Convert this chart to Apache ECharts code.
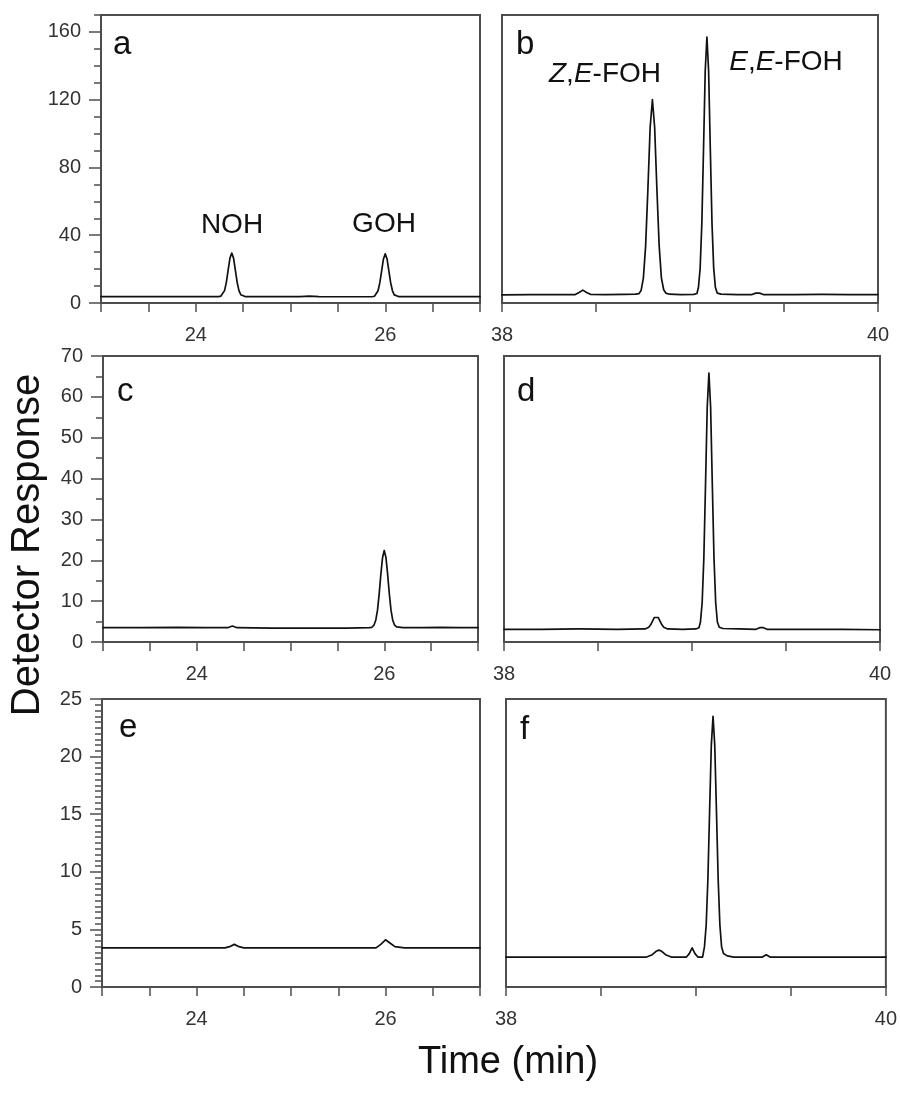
<!DOCTYPE html>
<html>
<head>
<meta charset="utf-8">
<script src="https://cdn.jsdelivr.net/npm/echarts@6/dist/echarts.min.js"></script>
<style>
html,body{margin:0;padding:0;background:#fff;}
#chart{width:900px;height:1096px;}
</style>
</head>
<body>
<div id="chart"></div>
<script>
// ---------- data (time in min, detector response) ----------
const panelA = [[23.0,3.8],[23.3,3.8],[23.6,3.8],[23.9,3.8],[24.1,3.8],[24.24,3.8],[24.266,4.1],[24.285,4.9],[24.304,7.3],[24.323,12.2],[24.342,19.4],[24.361,26.5],[24.38,29.5],[24.399,26.5],[24.418,19.4],[24.437,12.2],[24.456,7.3],[24.475,4.9],[24.494,4.1],[24.52,3.8],[24.8,3.8],[25.1,3.8],[25.2,4.0],[25.3,3.8],[25.6,3.7],[25.86,3.7],[25.886,4.0],[25.905,4.8],[25.924,7.2],[25.943,12.0],[25.962,19.0],[25.981,26.0],[26.0,29.0],[26.019,26.0],[26.038,19.0],[26.057,12.0],[26.076,7.2],[26.095,4.8],[26.114,4.0],[26.14,3.8],[26.4,3.8],[26.7,3.8],[27.0,3.8]];
const panelB = [[38.0,4.8],[38.15,4.9],[38.3,5.0],[38.39,5.0],[38.41,6.2],[38.43,7.6],[38.45,6.2],[38.47,5.1],[38.55,5.0],[38.65,5.1],[38.71,5.2],[38.728,5.5],[38.74,7.4],[38.752,14.7],[38.764,33.7],[38.776,67],[38.788,103.6],[38.80,120],[38.812,103.6],[38.824,67],[38.836,33.7],[38.848,14.7],[38.86,7.8],[38.872,5.8],[38.89,5.2],[38.95,5.0],[39.02,5.1],[39.037,5.6],[39.045,9.3],[39.054,20.6],[39.063,47],[39.072,91],[39.081,137],[39.09,157],[39.099,137],[39.108,91],[39.117,47],[39.126,20.6],[39.135,9.3],[39.145,5.8],[39.165,5.2],[39.25,5.0],[39.33,5.0],[39.35,5.8],[39.36,6.1],[39.37,5.8],[39.39,5.0],[39.55,5.0],[39.7,5.1],[39.85,5.0],[40.0,5.0]];
const panelC = [[23.0,3.5],[23.4,3.5],[23.8,3.6],[24.1,3.5],[24.33,3.5],[24.38,3.9],[24.43,3.5],[24.8,3.4],[25.2,3.4],[25.6,3.4],[25.84,3.5],[25.868,3.6],[25.892,4.2],[25.91,5.4],[25.928,7.8],[25.946,11.8],[25.964,16.6],[25.982,20.7],[26.0,22.4],[26.018,20.7],[26.036,16.6],[26.054,11.8],[26.072,7.8],[26.09,5.4],[26.108,4.2],[26.132,3.7],[26.2,3.5],[26.4,3.5],[26.6,3.6],[26.8,3.5],[27.0,3.5]];
const panelD = [[38.0,3.1],[38.2,3.1],[38.4,3.2],[38.6,3.1],[38.75,3.2],[38.77,3.6],[38.78,4.2],[38.79,5.1],[38.80,6.0],[38.81,6.4],[38.82,6.0],[38.83,5.1],[38.84,4.2],[38.85,3.6],[38.87,3.2],[38.95,3.1],[39.02,3.2],[39.037,3.5],[39.045,4.9],[39.054,9.6],[39.063,20.5],[39.072,38.6],[39.081,57.5],[39.09,65.8],[39.099,57.5],[39.108,38.6],[39.117,20.5],[39.126,9.6],[39.135,4.9],[39.145,3.6],[39.165,3.3],[39.25,3.2],[39.34,3.1],[39.36,3.5],[39.37,3.7],[39.38,3.5],[39.40,3.1],[39.6,3.1],[39.8,3.1],[40.0,3.0]];
const panelE = [[23.0,3.4],[23.5,3.4],[24.0,3.4],[24.3,3.4],[24.35,3.5],[24.4,3.7],[24.45,3.5],[24.5,3.4],[25.0,3.4],[25.5,3.4],[25.9,3.4],[25.95,3.7],[26.0,4.1],[26.05,3.8],[26.1,3.5],[26.2,3.4],[26.6,3.4],[27.0,3.4]];
const panelF = [[38.0,2.6],[38.3,2.6],[38.6,2.6],[38.74,2.6],[38.77,2.8],[38.79,3.1],[38.805,3.2],[38.82,3.1],[38.84,2.8],[38.87,2.6],[38.95,2.6],[38.965,2.9],[38.98,3.4],[38.995,2.9],[39.01,2.6],[39.035,2.6],[39.045,3.5],[39.054,5.4],[39.063,9.4],[39.072,15.3],[39.081,21.0],[39.09,23.5],[39.099,21.0],[39.108,15.3],[39.117,9.4],[39.126,5.4],[39.135,3.5],[39.145,2.9],[39.165,2.7],[39.2,2.6],[39.35,2.6],[39.37,2.8],[39.39,2.6],[39.6,2.6],[39.8,2.6],[40.0,2.6]];

// axis ranges and tick labels
const leftTimeRange = [23, 27];
const rightTimeRange = [38, 40];
const leftTimeLabels = [24, 26];
const rightTimeLabels = [38, 40];
const yMaxRows = [170, 70, 25];
const yMajorTicks = [[0, 40, 80, 120, 160], [0, 10, 20, 30, 40, 50, 60, 70], [0, 5, 10, 15, 20, 25]];
const yMinorStep = [10, 5, 0.5];

const panelLetters = ['a', 'b', 'c', 'd', 'e', 'f'];
const peakLabels = ['NOH', 'GOH', '{i|Z},{i|E}-FOH', '{i|E},{i|E}-FOH'];

// ---------- layout ----------
const grids = [
  {left: 101, top: 15, width: 379, height: 288},
  {left: 502, top: 15, width: 376, height: 288},
  {left: 103, top: 356, width: 375, height: 286},
  {left: 504, top: 356, width: 376, height: 286},
  {left: 102, top: 699, width: 378, height: 288},
  {left: 506, top: 699, width: 380, height: 288}
];
const panelData = [panelA, panelB, panelC, panelD, panelE, panelF];
const FONT = 'Liberation Sans, Arial, Helvetica, sans-serif';
const FRAME = '#4d4d4d';

const option = {
  animation: false,
  backgroundColor: '#fff',
  grid: [], xAxis: [], yAxis: [], series: [], graphic: []
};

grids.forEach((g, i) => {
  const row = Math.floor(i / 2);
  const isLeft = i % 2 === 0;
  option.grid.push(Object.assign({show: true, borderColor: FRAME, borderWidth: 2, backgroundColor: 'transparent', containLabel: false}, g));
  const tr = isLeft ? leftTimeRange : rightTimeRange;
  option.xAxis.push({
    type: 'value', gridIndex: i, min: tr[0], max: tr[1], interval: 0.5, position: 'bottom',
    axisLine: {show: true, onZero: false, lineStyle: {color: FRAME, width: 2}},
    axisTick: {show: true, length: 9, lineStyle: {color: FRAME, width: 1.5}},
    axisLabel: {show: true, customValues: isLeft ? leftTimeLabels : rightTimeLabels, fontSize: 20, fontFamily: FONT, color: '#333', margin: 22},
    splitLine: {show: false}
  });
  const yIdxMain = option.yAxis.length;
  if (isLeft) {
    option.yAxis.push({
      type: 'value', gridIndex: i, min: 0, max: yMaxRows[row], position: 'left',
      axisLine: {show: true, onZero: false, lineStyle: {color: FRAME, width: 2}},
      axisTick: {show: true, customValues: yMajorTicks[row], length: 12, lineStyle: {color: FRAME, width: 1.5}},
      axisLabel: {show: true, customValues: yMajorTicks[row], fontSize: 20, fontFamily: FONT, color: '#333', margin: 20},
      splitLine: {show: false}
    });
    option.yAxis.push({
      type: 'value', gridIndex: i, min: 0, max: yMaxRows[row], interval: yMinorStep[row], position: 'left', offset: 0,
      axisLine: {show: false, onZero: false},
      axisTick: {show: true, length: 7, lineStyle: {color: FRAME, width: 1.5}},
      axisLabel: {show: false},
      splitLine: {show: false}
    });
  } else {
    option.yAxis.push({
      type: 'value', gridIndex: i, min: 0, max: yMaxRows[row], position: 'left',
      axisLine: {show: true, onZero: false, lineStyle: {color: FRAME, width: 2}},
      axisTick: {show: false}, axisLabel: {show: false}, splitLine: {show: false}
    });
  }
  option.series.push({
    type: 'line', xAxisIndex: i, yAxisIndex: yIdxMain, data: panelData[i],
    showSymbol: false, symbol: 'none', smooth: false,
    lineStyle: {color: '#111', width: 1.7, join: 'round', cap: 'round'}, clip: true
  });
});

// panel letters
const letterPos = [[113, 45], [516, 45], [117, 392], [517, 392], [119, 728], [520, 730]];
panelLetters.forEach((t, i) => {
  option.graphic.push({type: 'text', x: letterPos[i][0], y: letterPos[i][1],
    style: {text: t, fontSize: 33, fontFamily: FONT, fill: '#111', align: 'left', verticalAlign: 'middle'}});
});
// peak labels
const peakPos = [[232, 225], [384, 224], [605, 74], [786, 62]];
peakLabels.forEach((t, i) => {
  option.graphic.push({type: 'text', x: peakPos[i][0], y: peakPos[i][1],
    style: {text: t, fontSize: 28, fontFamily: FONT, fill: '#111', align: 'center', verticalAlign: 'middle',
      rich: {i: {fontStyle: 'italic', fontSize: 28, fontFamily: FONT, fill: '#111'}}}});
});
// axis titles
option.graphic.push({type: 'text', x: 28, y: 545, rotation: Math.PI / 2,
  style: {text: 'Detector Response', fontSize: 40, fontFamily: FONT, fill: '#111', align: 'center', verticalAlign: 'middle'}});
option.graphic.push({type: 'text', x: 508, y: 1063,
  style: {text: 'Time (min)', fontSize: 38, fontFamily: FONT, fill: '#111', align: 'center', verticalAlign: 'middle'}});

const chart = echarts.init(document.getElementById('chart'), null, {renderer: 'canvas'});
chart.setOption(option);
</script>
</body>
</html>
